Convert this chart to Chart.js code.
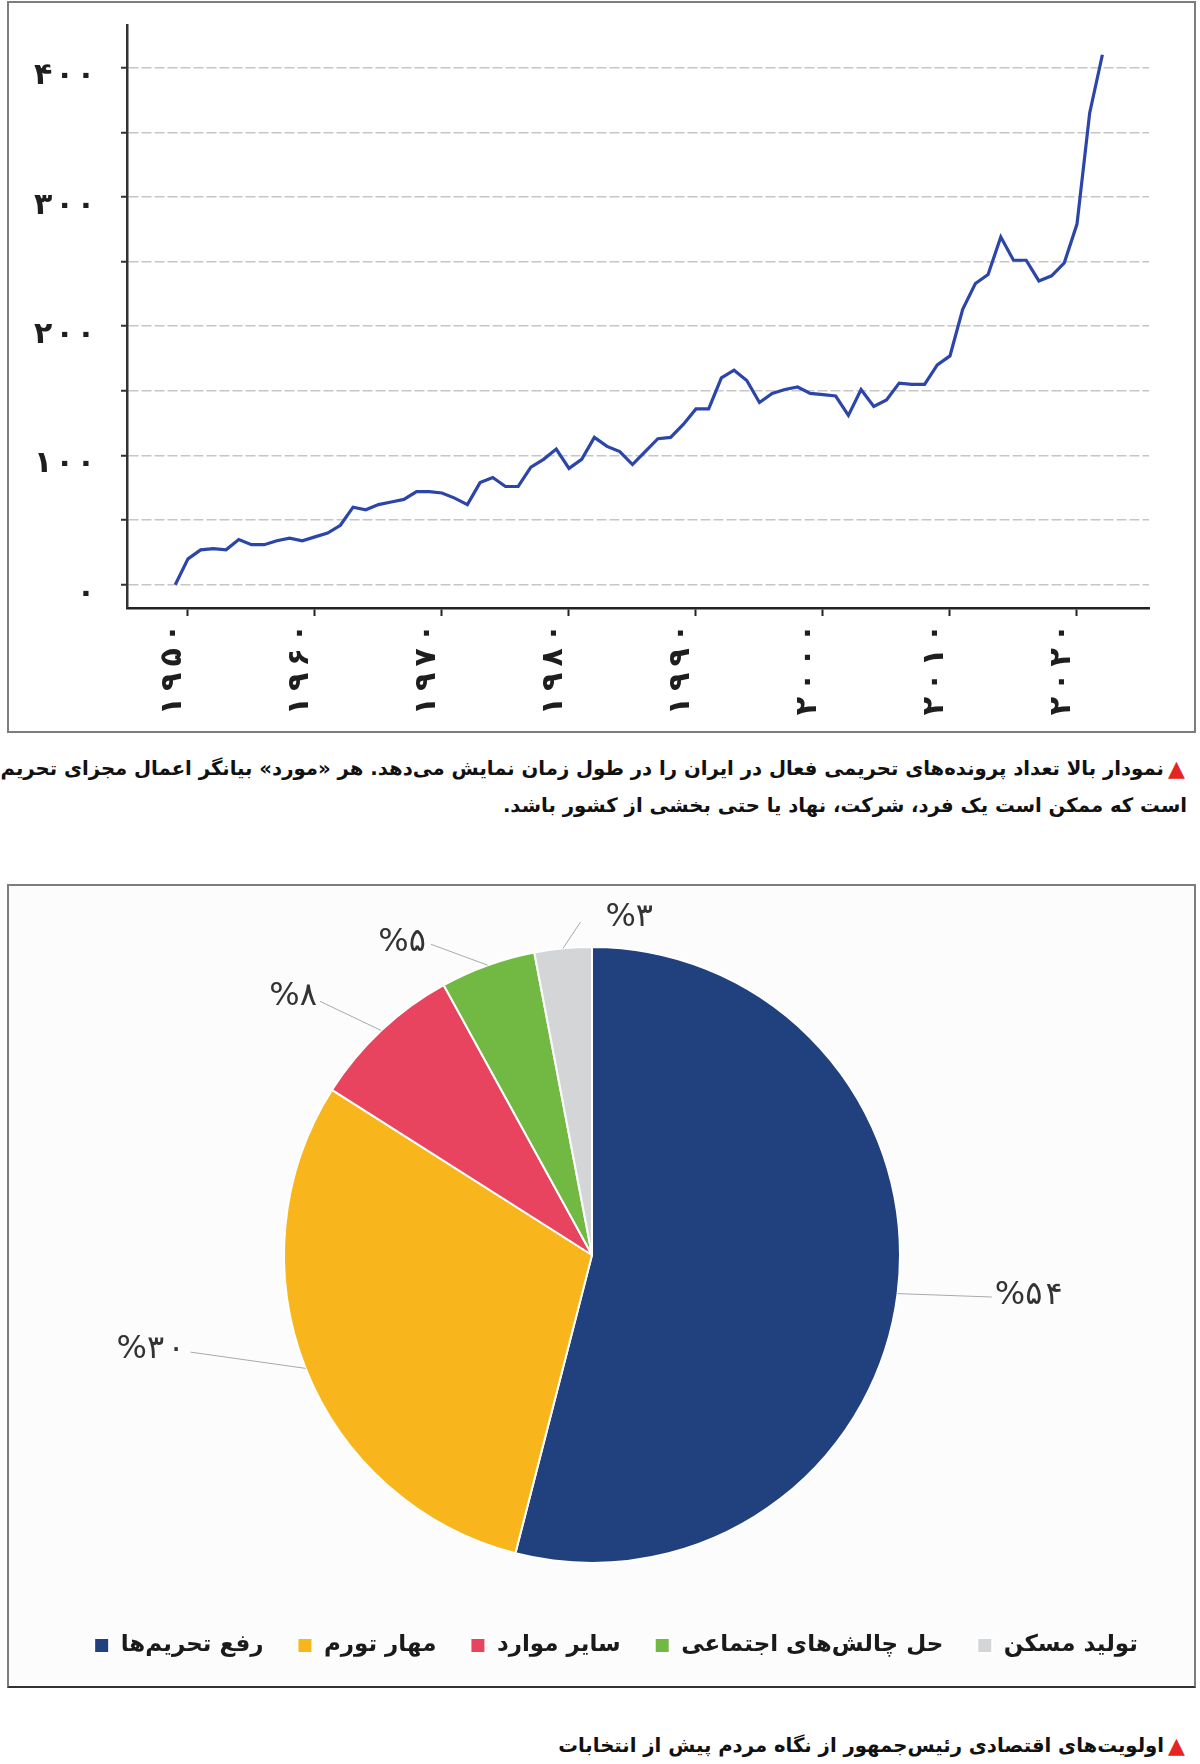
<!DOCTYPE html>
<html lang="fa">
<head>
<meta charset="utf-8">
<script src="https://cdn.jsdelivr.net/npm/chart.js@4.4.1/dist/chart.umd.min.js"></script>
<style>
html,body{margin:0;padding:0;background:#fff;}
body{width:1200px;height:1764px;position:relative;overflow:hidden;font-family:"DejaVu Sans",sans-serif;}
.frame{position:absolute;box-sizing:border-box;border:2px solid #7d7d7d;background:#fff;}
#f1{left:7px;top:1px;width:1189px;height:732px;}
#f2{left:7px;top:884px;width:1189px;height:804px;background:#fcfcfc;border-bottom-color:#333;}
.frame canvas{position:absolute;left:0;top:0;}
.cap{position:absolute;white-space:nowrap;direction:rtl;font-weight:bold;color:#111;line-height:36px;height:36px;}
.tri{position:absolute;color:#e52521;font-size:22px;line-height:22px;}
</style>
</head>
<body>
<div class="frame" id="f1"><canvas id="c1" width="1185" height="728" style="width:1185px;height:728px"></canvas></div>
<span class="tri" style="left:1168px;top:758px">▲</span>
<div class="cap" id="cap1a" style="right:36px;top:751px">نمودار بالا تعداد پرونده‌های تحریمی فعال در ایران را در طول زمان نمایش می‌دهد. هر «مورد» بیانگر اعمال مجزای تحریم</div>
<div class="cap" id="cap1b" style="right:13px;top:788px">است که ممکن است یک فرد، شرکت، نهاد یا حتی بخشی از کشور باشد.</div>
<div class="frame" id="f2"><canvas id="c2" width="1185" height="800" style="width:1185px;height:800px"></canvas></div>
<span class="tri" style="left:1168px;top:1735px">▲</span>
<div class="cap" id="cap2" style="right:36px;top:1728px">اولویت‌های اقتصادی رئیس‌جمهور از نگاه مردم پیش از انتخابات</div>
<script>
// ---------- data: line chart ----------
const years = [1949,1950,1951,1952,1953,1954,1955,1956,1957,1958,1959,1960,1961,1962,1963,1964,1965,1966,1967,1968,1969,1970,1971,1972,1973,1974,1975,1976,1977,1978,1979,1980,1981,1982,1983,1984,1985,1986,1987,1988,1989,1990,1991,1992,1993,1994,1995,1996,1997,1998,1999,2000,2001,2002,2003,2004,2005,2006,2007,2008,2009,2010,2011,2012,2013,2014,2015,2016,2017,2018,2019,2020,2021,2022];
const sanctionCases = [0,20,27,28,27,35,31,31,34,36,34,37,40,46,60,58,62,64,66,72,72,71,67,62,79,83,76,76,91,97,105,90,97,114,107,103,93,103,113,114,124,136,136,160,166,158,141,148,151,153,148,147,146,131,151,138,143,156,155,155,170,177,213,233,240,269,251,251,235,239,249,279,365,410];
const xTickValues = [1950,1960,1970,1980,1990,2000,2010,2020];
const yTickValues = [0,50,100,150,200,250,300,350,400];
const yLabelValues = [0,100,200,300,400];

// ---------- data: pie chart ----------
const pieLabels = ['رفع تحریم‌ها','مهار تورم','سایر موارد','حل چالش‌های اجتماعی','تولید مسکن'];
const pieValues = [54,30,8,5,3];
const pieColors = ['#21407e','#f8b61c','#e9445f','#72b944','#d4d5d7'];

const faDigits = '۰۱۲۳۴۵۶۷۸۹';
const fa = v => String(v).replace(/\d/g, d => faDigits[d]);
// spaced digits (thin / hair spaces between digits, as in the reference typography)
const faSpaced = (v, sp) => fa(v).split('').join(sp);

// fit captions
(function(){
  const a = document.getElementById('cap1a'), b = document.getElementById('cap1b'), c = document.getElementById('cap2');
  [a,b,c].forEach(e => e.style.fontSize = '20px');
  const w = a.getBoundingClientRect().width;
  const fs = 20 * 1164 / w;
  [a,b,c].forEach(e => e.style.fontSize = fs.toFixed(2) + 'px');
})();

new Chart(document.getElementById('c1'), {
  type: 'line',
  data: {
    datasets: [{
      data: years.map((x, i) => ({x: x, y: sanctionCases[i]})),
      borderColor: '#2c45a8', borderWidth: 3.2, pointRadius: 0, tension: 0, fill: false
    }]
  },
  options: {
    responsive: false, animation: false, devicePixelRatio: 1,
    layout: {padding: {top: 22, right: 45, left: 0, bottom: 0}},
    plugins: {legend: {display: false}, tooltip: {enabled: false}},
    scales: {
      x: {
        type: 'linear', min: 1945.2, max: 2025.67,
        afterBuildTicks: s => { s.ticks = xTickValues.map(v => ({value: v})); },
        afterFit: s => { s.height = 123; s.paddingLeft = 0; s.paddingRight = 0; s.paddingTop = 0; s.paddingBottom = 0; },
        grid: {drawOnChartArea: false, drawTicks: true, tickLength: 8, tickColor: '#222', tickWidth: 2},
        border: {display: true, color: '#222', width: 2.5},
        ticks: {minRotation: 90, maxRotation: 90, autoSkip: false, padding: 8, labelOffset: -15, color: '#1e1e1e',
                font: {family: 'DejaVu Sans', size: 30, weight: 'bold'}, callback: v => faSpaced(v, '\u2009')}
      },
      y: {
        min: -18, max: 433,
        afterBuildTicks: s => { s.ticks = yTickValues.map(v => ({value: v})); },
        afterFit: s => { s.width = 118; s.paddingLeft = 0; s.paddingRight = 0; s.paddingTop = 0; s.paddingBottom = 0; },
        grid: {color: '#c6c6c6', lineWidth: 1.5, tickLength: 6, tickColor: '#333', tickWidth: 2, tickBorderDash: []},
        border: {display: true, color: '#333', width: 2.5, dash: [10, 3]},
        ticks: {autoSkip: false, padding: 26, labelOffset: 9, color: '#1e1e1e', font: {family: 'DejaVu Sans', size: 30, weight: 'bold'},
                callback: v => yLabelValues.includes(v) ? faSpaced(v, '\u200A') : ''}
      }
    }
  }
});

const leaderPlugin = {
  id: 'pieLeaders',
  afterLayout(chart, args, opts) {
    if (chart.legend) { chart.legend.left += opts.legendShift; chart.legend.right += opts.legendShift; }
  },
  afterDatasetsDraw(chart, args, opts) {
    const ctx = chart.ctx;
    const meta = chart.getDatasetMeta(0);
    const vals = chart.data.datasets[0].data;
    meta.data.forEach((arc, i) => {
      const p = arc.getProps(['x', 'y', 'startAngle', 'endAngle', 'outerRadius'], true);
      const cfg = opts.leaders[i];
      const mid = (p.startAngle + p.endAngle) / 2;
      const a2 = mid + cfg.dAng * Math.PI / 180;
      const sx = p.x + Math.cos(mid) * p.outerRadius, sy = p.y + Math.sin(mid) * p.outerRadius;
      const ex = p.x + Math.cos(a2) * (p.outerRadius + cfg.ext), ey = p.y + Math.sin(a2) * (p.outerRadius + cfg.ext);
      ctx.save();
      ctx.strokeStyle = opts.lineColor; ctx.lineWidth = 1;
      ctx.beginPath(); ctx.moveTo(sx, sy); ctx.lineTo(ex, ey); ctx.stroke();
      ctx.font = opts.font; ctx.fillStyle = opts.color; ctx.textBaseline = 'middle'; ctx.textAlign = cfg.align;
      const tx = cfg.align === 'left' ? ex + cfg.gap : ex - cfg.gap;
      ctx.fillText('%' + faSpaced(vals[i], '\u200A'), tx, ey + cfg.dy);
      ctx.restore();
    });
  }
};

new Chart(document.getElementById('c2'), {
  type: 'pie',
  data: {
    labels: pieLabels,
    datasets: [{data: pieValues, backgroundColor: pieColors, borderColor: '#ffffff', borderWidth: 2, radius: 308}]
  },
  options: {
    responsive: false, animation: false, devicePixelRatio: 1,
    layout: {padding: {top: 24, left: 0, right: 19, bottom: 19}},
    plugins: {
      tooltip: {enabled: false},
      legend: {position: 'bottom', labels: {boxWidth: 15, boxHeight: 15, padding: 34, color: '#1a1a1a',
               font: {family: 'DejaVu Sans', size: 23, weight: 'bold'}}},
      pieLeaders: {
        legendShift: 24,
        lineColor: '#a9a9a9', color: '#333', font: '32px "DejaVu Sans"',
        leaders: [
          {ext: 94, dAng: -1.2, align: 'left', gap: 3, dy: -1},
          {ext: 105, dAng: 8, align: 'right', gap: 6, dy: -2},
          {ext: 64, dAng: -3.8, align: 'right', gap: 3, dy: -5},
          {ext: 42, dAng: -7.6, align: 'right', gap: 5, dy: -2},
          {ext: 25, dAng: 3.4, align: 'left', gap: 25, dy: -5}
        ]
      }
    }
  },
  plugins: [leaderPlugin]
});
</script>
</body>
</html>
